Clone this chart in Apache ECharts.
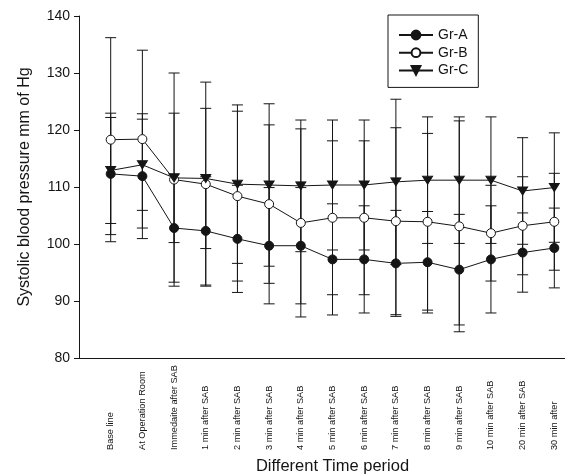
<!DOCTYPE html>
<html><head><meta charset="utf-8">
<script src="https://cdn.jsdelivr.net/npm/echarts@6/dist/echarts.min.js"></script>
<style>html,body{margin:0;padding:0;background:#fff}#c{width:565px;height:476px}</style>
</head><body><div id="c"></div>
<script>
const categories = ["Base line","At Operation Room","Immedaite after SAB","1 min after SAB","2 min after SAB","3 min after SAB","4 min after SAB","5 min after SAB","6 min after SAB","7 min after SAB","8 min after SAB","9 min after SAB","10 min after SAB","20 min after SAB","30 min after"];
const grA_mean = [112.3, 111.9, 102.8, 102.3, 100.9, 99.7, 99.7, 97.3, 97.3, 96.6, 96.8, 95.5, 97.3, 98.5, 99.3];
const grA_sd   = [10.65, 10.95, 9.5, 9.5, 9.4, 10.2, 10.2, 9.75, 9.4, 9.3, 8.9, 9.7, 9.4, 6.95, 7.0];
const grB_mean = [118.3, 118.4, 111.3, 110.5, 108.4, 107.0, 103.7, 104.6, 104.6, 104.0, 103.9, 103.1, 101.9, 103.2, 103.9];
const grB_sd   = [17.9, 15.6, 18.7, 17.9, 14.9, 13.9, 16.5, 13.5, 13.5, 16.4, 15.5, 18.5, 8.4, 8.6, 8.5];
const grC_mean = [112.9, 113.9, 111.6, 111.5, 110.5, 110.35, 110.2, 110.35, 110.35, 110.9, 111.2, 111.2, 111.2, 109.3, 109.9];
const grC_sd   = [9.3, 8.0, 11.35, 12.3, 13.9, 14.25, 11.55, 11.4, 11.4, 14.5, 11.1, 11.1, 11.1, 9.35, 9.6];
const yTicks = [80, 90, 100, 110, 120, 130, 140];

const FONT = '"Liberation Sans", Arial, sans-serif';
const INK = '#151515';
const chart = echarts.init(document.getElementById('c'), null, {renderer: 'canvas'});

function errSeries(name, mean, sd) {
  return {
    type: 'custom', name: name + ' SD', z: 1, silent: true,
    data: mean.map((m, i) => [i, m - sd[i], m + sd[i]]),
    encode: {x: 0, y: [1, 2]},
    renderItem(params, api) {
      const x = api.value(0);
      const lo = api.coord([x, api.value(1)]);
      const hi = api.coord([x, api.value(2)]);
      const w = 5.5;
      const st = {stroke: INK, lineWidth: 1};
      return {type: 'group', children: [
        {type: 'line', shape: {x1: lo[0], y1: lo[1], x2: hi[0], y2: hi[1]}, style: st},
        {type: 'line', shape: {x1: lo[0] - w, y1: lo[1], x2: lo[0] + w, y2: lo[1]}, style: st},
        {type: 'line', shape: {x1: hi[0] - w, y1: hi[1], x2: hi[0] + w, y2: hi[1]}, style: st}
      ]};
    }
  };
}
function lineSeries(name, mean, symbol, fill, rot, size) {
  return {
    type: 'line', name, z: 3,
    data: mean.map((m, i) => [i, m]),
    symbol, symbolSize: size, symbolRotate: rot,
    showAllSymbol: true,
    lineStyle: {color: INK, width: 1},
    itemStyle: {color: fill, borderColor: INK, borderWidth: 1},
    emphasis: {disabled: true},
    animation: false
  };
}

chart.setOption({
  animation: false,
  backgroundColor: '#fff',
  textStyle: {fontFamily: FONT},
  grid: {left: 79, top: 16, bottom: 118, right: -21, containLabel: false, outerBoundsMode: 'none'},
  legend: {
    orient: 'vertical', left: 388, top: 15,
    data: ['Gr-A', 'Gr-B', 'Gr-C'],
    borderColor: INK, borderWidth: 1, borderRadius: 0,
    padding: [13, 10, 10, 10],
    itemWidth: 34, itemHeight: 11, itemGap: 3.7,
    textStyle: {fontSize: 14, color: INK, fontFamily: FONT},
    selectedMode: false
  },
  xAxis: {
    type: 'value', min: -1, max: 15, interval: 1,
    name: 'Different Time period', nameLocation: 'middle', nameGap: 100,
    nameTextStyle: {fontSize: 16.5, color: INK, fontFamily: FONT},
    axisLine: {show: true, onZero: false, lineStyle: {color: INK, width: 1}},
    axisTick: {show: false},
    splitLine: {show: false},
    axisLabel: {
      rotate: 90, align: 'left', margin: 92, fontSize: 9.2, color: INK, fontFamily: FONT,
      formatter: v => (v >= 0 && v < categories.length) ? categories[v] : ''
    }
  },
  yAxis: {
    type: 'value', min: yTicks[0], max: yTicks[yTicks.length - 1], interval: 10,
    name: 'Systolic blood pressure mm of Hg', nameLocation: 'middle', nameGap: 46,
    nameTextStyle: {fontSize: 16, color: INK, fontFamily: FONT},
    axisLine: {show: true, onZero: false, lineStyle: {color: INK, width: 1}},
    axisTick: {show: true, inside: false, length: 5, lineStyle: {color: INK}},
    splitLine: {show: false},
    axisLabel: {fontSize: 14, color: INK, margin: 9, fontFamily: FONT}
  },
  series: [
    errSeries('Gr-A', grA_mean, grA_sd),
    errSeries('Gr-B', grB_mean, grB_sd),
    errSeries('Gr-C', grC_mean, grC_sd),
    lineSeries('Gr-A', grA_mean, 'circle', INK, 0, 9),
    lineSeries('Gr-B', grB_mean, 'circle', '#fff', 0, 9),
    lineSeries('Gr-C', grC_mean, 'triangle', INK, 180, [10, 8])
  ]
});
</script></body></html>
